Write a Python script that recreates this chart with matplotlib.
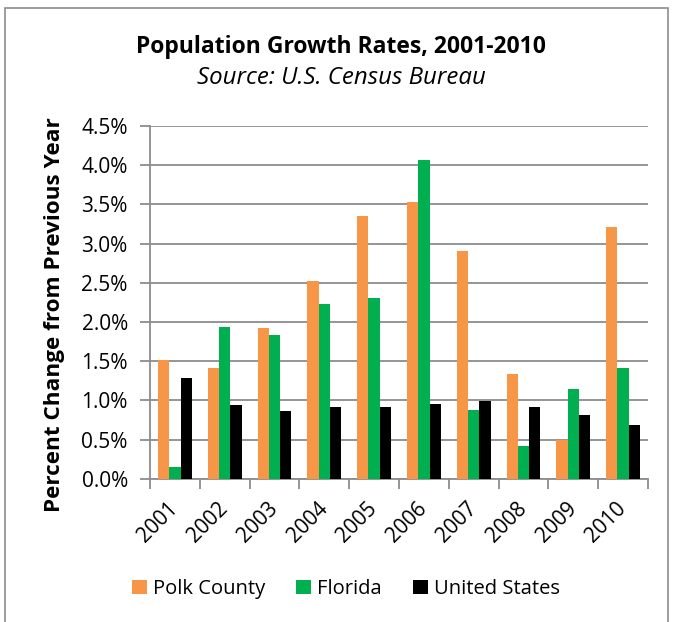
import matplotlib
matplotlib.use("Agg")
import matplotlib.pyplot as plt
import numpy as np
from matplotlib.patches import Rectangle
from matplotlib.ticker import FuncFormatter, MultipleLocator

years = ["2001", "2002", "2003", "2004", "2005", "2006", "2007", "2008", "2009", "2010"]
polk = [1.52, 1.41, 1.92, 2.52, 3.35, 3.53, 2.91, 1.34, 0.50, 3.21]
florida = [0.15, 1.94, 1.83, 2.23, 2.30, 4.06, 0.88, 0.42, 1.14, 1.41]
usa = [1.28, 0.94, 0.86, 0.92, 0.91, 0.95, 0.99, 0.92, 0.81, 0.68]
series_names = ["Polk County", "Florida", "United States"]
colors = ["#F79646", "#00B050", "#000000"]

FONT = "Open Sans"
plt.rcParams['font.family'] = [FONT, 'DejaVu Sans']

W, H = 674, 622
fig = plt.figure(figsize=(W/100, H/100), dpi=100)
ax = fig.add_axes([150/W, 1-478.7/H, (648-150)/W, (478.7-126)/H])

x = np.arange(len(years))
bw = 0.227
for i, (vals, name, c) in enumerate(zip([polk, florida, usa], series_names, colors)):
    ax.bar(x + (i-1)*bw, vals, width=bw, color=c, label=name, zorder=3)

ax.set_xlim(-0.5, len(years)-0.5)
ax.set_ylim(0, 4.5)
ax.yaxis.set_major_locator(MultipleLocator(0.5))
ax.yaxis.set_major_formatter(FuncFormatter(lambda v, p: f"{v:.1f}%"))
ax.grid(axis='y', color='#8c8c8c', linewidth=1.3, zorder=0)
ax.set_axisbelow(True)

for s in ['top', 'right']:
    ax.spines[s].set_visible(False)
for s in ['left', 'bottom']:
    ax.spines[s].set_color('#8c8c8c')
    ax.spines[s].set_linewidth(1.3)

ax.tick_params(axis='y', length=7, width=1.3, color='#8c8c8c', labelsize=15, pad=9)
ax.set_xticks(x)
ax.set_xticklabels(years, rotation=45, ha='right', va='center', rotation_mode='anchor')
ax.set_xticks(np.arange(-0.5, len(years), 1), minor=True)
ax.tick_params(axis='x', which='major', length=0, labelsize=15, pad=19)
ax.tick_params(axis='x', which='minor', length=7, width=1.3, color='#8c8c8c')

fig.text(55/W, 1-315/H, "Percent Change from Previous Year", rotation=90, ha='center', va='center',
         fontsize=16.2, fontweight='bold')
fig.text(341/W, 1-47/H, "Population Growth Rates, 2001-2010", ha='center', va='center',
         fontsize=16.5, fontweight='bold')
fig.text(341/W, 1-78/H, "Source: U.S. Census Bureau", ha='center', va='center',
         fontsize=17.3, style='italic')

leg = fig.legend(loc='center', bbox_to_anchor=(346/W, 1-589/H), ncol=3, frameon=False,
                 fontsize=14.5, handlelength=0.75, handleheight=0.75, handletextpad=0.3,
                 columnspacing=1.55)

fig.patches.append(Rectangle((5/W, -0.01), (668-5)/W, 1-8/H+0.01, transform=fig.transFigure,
                             fill=False, edgecolor='#8c8c8c', linewidth=1.2))

fig.savefig("out.png", dpi=100)
